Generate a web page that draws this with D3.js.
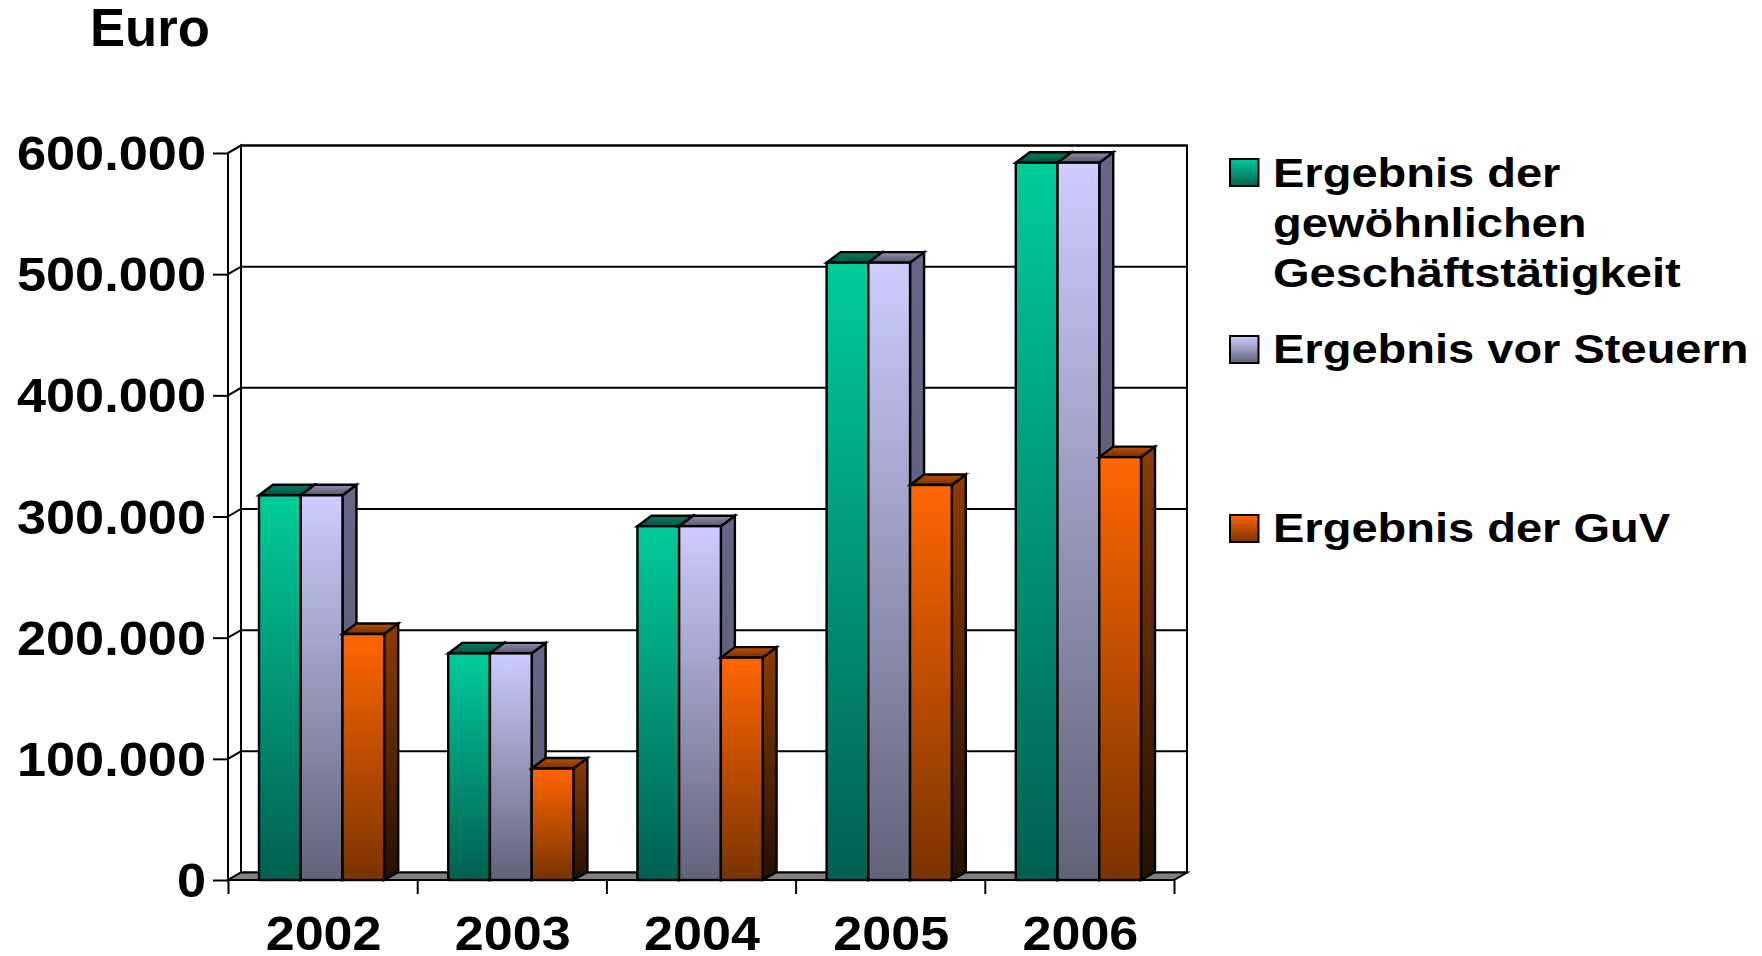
<!DOCTYPE html>
<html><head><meta charset="utf-8">
<script src="https://cdn.jsdelivr.net/npm/d3@7"></script>
<style>html,body{margin:0;padding:0;background:#fff;overflow:hidden}
text{font-family:"Liberation Sans",Arial,sans-serif;font-weight:bold;fill:#000}</style>
</head><body><svg id="c" width="1762" height="956"></svg>
<script>
const years=["2002","2003","2004","2005","2006"];
const seriesNames=["Ergebnis der gewöhnlichen Geschäftstätigkeit","Ergebnis vor Steuern","Ergebnis der GuV"];
const ergebnisGewoehnlich=[317500,187000,292000,509500,592000];
const ergebnisVorSteuern=[317500,187000,292000,509500,592000];
const ergebnisGuV=[203000,92000,183500,326000,349000];
const yTicks=[0,100000,200000,300000,400000,500000,600000];
const allValues=[ergebnisGewoehnlich,ergebnisVorSteuern,ergebnisGuV];
const legendLines=[["Ergebnis der","gewöhnlichen","Geschäftstätigkeit"],["Ergebnis vor Steuern"],["Ergebnis der GuV"]];
const palette=[
 {front:["#00CC99","#006050"],side:["#00705a","#003028"],top:["#008064","#005040"]},
 {front:["#CCCCFF","#626278"],side:["#666688","#5a5a70"],top:["#9090b0","#55556a"]},
 {front:["#FF6600","#7A3300"],side:["#8c3c00","#241000"],top:["#c05000","#703000"]}];

const svg=d3.select("#c");
const X0=228,X1=1174,Y0=880,Y600=153,DX=13,DY=-7.5,BDX=14,BTOP=-10.5,BBOT=-8;
const x=d3.scaleBand().domain(years).range([X0,X1]);
const x1=d3.scaleBand().domain([0,1,2]).range([31,x.bandwidth()-33]);
const y=d3.scaleLinear().domain([0,600000]).range([Y0,Y600]);
const fmt=d3.formatLocale({decimal:",",thousands:".",grouping:[3],currency:["","€"]}).format(",d");

const defs=svg.append("defs");
palette.forEach((p,i)=>["front","side","top"].forEach(k=>{
  const g=defs.append("linearGradient").attr("id",`g${i}${k}`).attr("x1",0).attr("x2",0).attr("y1",0).attr("y2",1);
  g.append("stop").attr("offset",0).attr("stop-color",p[k][0]);
  g.append("stop").attr("offset",1).attr("stop-color",p[k][1]);
}));
const poly=(pts,fill,sw)=>svg.append("polygon").attr("points",pts.map(d=>d.join(",")).join(" "))
  .attr("fill",fill).attr("stroke","#000").attr("stroke-width",sw||2).attr("stroke-linejoin","miter");

const yTop=y(600000)+DY;
// walls
poly([[X0+DX,Y0+DY],[X1+DX,Y0+DY],[X1+DX,yTop],[X0+DX,yTop]],"#fff");
poly([[X0,Y0],[X0+DX,Y0+DY],[X0+DX,yTop],[X0,y(600000)]],"#fff");
// gridlines
yTicks.slice(1).forEach(t=>{
  svg.append("path").attr("d",`M${X0},${y(t)}L${X0+DX},${y(t)+DY}L${X1+DX},${y(t)+DY}`)
    .attr("fill","none").attr("stroke","#000").attr("stroke-width",2);
});
// floor
poly([[X0,Y0],[X0+DX,Y0+DY],[X1+DX,Y0+DY],[X1,Y0]],"#808080");

// bars
years.forEach((yr,gi)=>{
  allValues.forEach((vals,si)=>{
    const bx=x(yr)+x1(si),w=x1.bandwidth(),ty=y(vals[gi]);
    poly([[bx+w,ty],[bx+w+BDX,ty+BTOP],[bx+w+BDX,Y0+BBOT],[bx+w,Y0]],`url(#g${si}side)`,2.4);
    poly([[bx,ty],[bx+BDX,ty+BTOP],[bx+w+BDX,ty+BTOP],[bx+w,ty]],`url(#g${si}top)`,2.4);
    svg.append("rect").attr("x",bx).attr("y",ty).attr("width",w).attr("height",Y0-ty)
      .attr("fill",`url(#g${si}front)`).attr("stroke","#000").attr("stroke-width",2.4);
  });
});

// axes
const ax=svg.append("g").attr("transform",`translate(${X0},0)`)
  .call(d3.axisLeft(y).tickValues(yTicks).tickSize(15).tickFormat(fmt));
const bx=svg.append("g").attr("transform",`translate(0,${Y0})`)
  .call(d3.axisBottom(d3.scaleLinear().domain([0,years.length]).range([X0,X1])).ticks(5).tickSize(14).tickFormat(""));
[ax,bx].forEach(a=>{a.selectAll("path,line").attr("stroke","#000").attr("stroke-width",2);});
ax.select(".domain").remove();bx.select(".domain").remove();
ax.selectAll("text").remove();
const label=(t,px,py,fs,sx,anchor)=>svg.append("text")
  .attr("transform",`translate(${px},${py}) scale(${sx},1)`)
  .attr("font-size",fs).attr("text-anchor",anchor||"start").text(t);
yTicks.forEach(t=>label(fmt(t),206,y(t)+17,48,1.09,"end"));
years.forEach(yr=>label(yr,x(yr)+x.bandwidth()/2+1,950,48,1.085,"middle"));
label("Euro",90,46,54,0.975);

// legend
const legendY=[[187,237,287],[363],[542]];
const swatchY=[159,336,515];
legendLines.forEach((ls,i)=>{
  svg.append("rect").attr("x",1230).attr("y",swatchY[i]).attr("width",28.5).attr("height",27)
    .attr("fill",`url(#g${i}front)`).attr("stroke","#000").attr("stroke-width",2);
  ls.forEach((t,j)=>label(t,1273,legendY[i][j],41,1.147));
});
</script></body></html>
